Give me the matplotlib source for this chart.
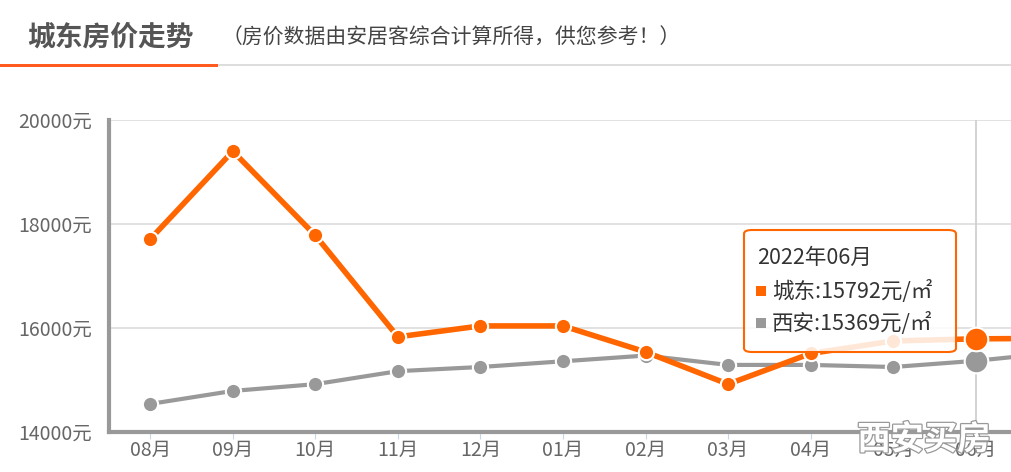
import matplotlib.pyplot as plt
import matplotlib.patheffects as pe
from matplotlib.patches import FancyBboxPatch, Rectangle

plt.rcParams['font.family'] = ['Noto Sans CJK SC', 'DejaVu Sans']

# --- DATA ---
months = ["08月", "09月", "10月", "11月", "12月", "01月", "02月", "03月", "04月", "05月", "06月", "07月"]
chengdong = [17710, 19400, 17780, 15830, 16040, 16040, 15540, 14920, 15510, 15750, 15792, 15800]
xian = [14540, 14790, 14920, 15170, 15250, 15360, 15470, 15290, 15290, 15250, 15369, 15530]
yticks = [14000, 16000, 18000, 20000]
hl = 10  # highlighted month (06月)

ORANGE = "#FF6600"
GRAY = "#999999"

fig = plt.figure(figsize=(10.12, 4.72), dpi=100)
ax = fig.add_axes([109 / 1012, 1 - 432 / 472, 1 - 109 / 1012, 312 / 472])

xs = list(range(len(months)))
ax.plot(xs, chengdong, color=ORANGE, lw=4, marker="o", ms=11, mfc=ORANGE,
        mec="white", mew=1.5, zorder=4)
ax.plot(xs, xian, color=GRAY, lw=3, marker="o", ms=11, mfc=GRAY,
        mec="white", mew=1.5, zorder=3)
# highlighted points
ax.plot([hl], [chengdong[hl]], "o", color=ORANGE, ms=17, mec="white", mew=1.5, zorder=6)
ax.plot([hl], [xian[hl]], "o", color=GRAY, ms=17, mec="white", mew=1.5, zorder=5)
ax.axvline(hl, color="#cccccc", lw=1.2, zorder=2)

ax.set_yticks(yticks)
ax.set_yticklabels([f"{v}元" for v in yticks])
ax.set_xticks(xs)
ax.set_xticklabels(months)
ax.set_xlim(-0.5, 10.44)
ax.set_ylim(14000, 20000)
ax.grid(axis="y", color="#dddddd", lw=1.2, zorder=0)
ax.tick_params(axis="y", length=0, labelsize=14, colors="#666666", pad=12)
ax.tick_params(axis="x", length=5, color="#c6d8e8", labelsize=14,
               labelcolor="#666666", pad=1)
for s in ["top", "right"]:
    ax.spines[s].set_visible(False)
for s in ["left", "bottom"]:
    ax.spines[s].set_color(GRAY)
    ax.spines[s].set_linewidth(3)

# --- HEADER ---
fig.text(27 / 1012, 1 - 38 / 472, "城东房价走势", fontsize=20, fontweight="bold",
         color="#555555", va="center")
fig.text(222 / 1012, 1 - 38 / 472, "（房价数据由安居客综合计算所得，供您参考！）",
         fontsize=15, color="#444444", va="center")
fig.add_artist(Rectangle((218 / 1012, 1 - 66 / 472), 1, 2 / 472,
                         transform=fig.transFigure, color="#dddddd", lw=0))
fig.add_artist(Rectangle((0, 1 - 67 / 472), 218 / 1012, 3 / 472,
                         transform=fig.transFigure, color="#FF5A1F", lw=0))

# --- TOOLTIP ---
fig.add_artist(FancyBboxPatch((744 / 1012, 1 - 352 / 472), 212 / 1012, 122 / 472,
                              boxstyle="round,pad=0,rounding_size=0.008",
                              transform=fig.transFigure, facecolor="white",
                              alpha=0.85, lw=0, zorder=10))
fig.add_artist(FancyBboxPatch((744 / 1012, 1 - 352 / 472), 212 / 1012, 122 / 472,
                              boxstyle="round,pad=0,rounding_size=0.008",
                              transform=fig.transFigure, facecolor="none",
                              edgecolor=ORANGE, lw=1.5, zorder=11))
fig.text(757 / 1012, 1 - 258 / 472, "2022年06月", fontsize=15.5, color="#333333",
         va="center", zorder=12)
rows = [("城东", chengdong[hl], ORANGE, 291), ("西安", xian[hl], GRAY, 323)]
for name, val, col, ypx in rows:
    fig.add_artist(Rectangle((756 / 1012, 1 - (ypx + 5) / 472), 10 / 1012, 10 / 472,
                             transform=fig.transFigure, color=col, lw=0, zorder=12))
    fig.text(772 / 1012, 1 - ypx / 472, f"{name}:{val}元/㎡", fontsize=15.5,
             color="#333333", va="center", zorder=12)

# --- WATERMARK ---
fig.text(924 / 1012, 1 - 440 / 472, "西安买房", fontsize=24, fontweight="bold",
         color="white", ha="center", va="center", zorder=20,
         path_effects=[pe.withStroke(linewidth=1.8, foreground="#999999")])

fig.savefig("out.png", dpi=100)
